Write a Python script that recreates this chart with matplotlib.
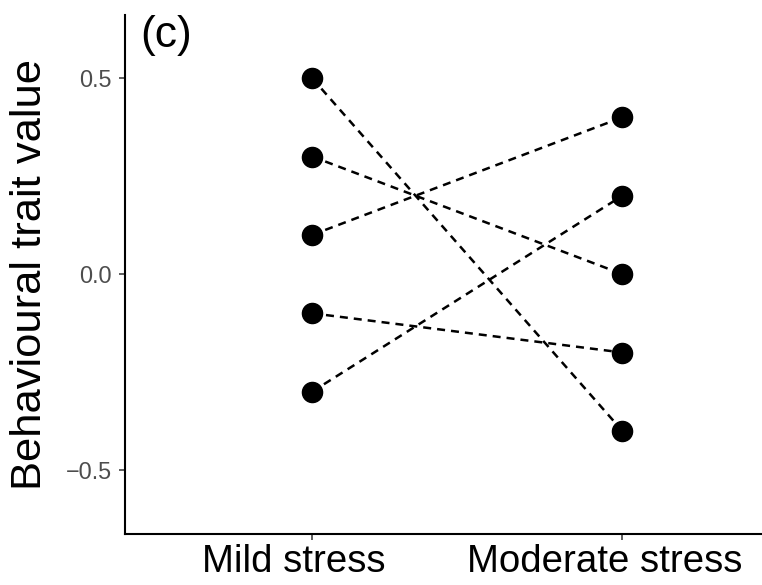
import matplotlib
matplotlib.use("Agg")
import matplotlib.pyplot as plt
from matplotlib.transforms import ScaledTranslation

plt.rcParams['font.family'] = ['Liberation Sans', 'DejaVu Sans']

categories = ["Mild stress", "Moderate stress"]
mild_values = [0.5, 0.3, 0.1, -0.1, -0.3]
moderate_values = [-0.4, 0.0, 0.4, -0.2, 0.2]
y_ticks = [-0.5, 0.0, 0.5]
y_ticklabels = ["\u22120.5", "0.0", "0.5"]

fig = plt.figure(figsize=(7.62, 5.85), dpi=100)
ax = fig.add_axes([125/762, 51/585, 1 - 125/762, (534-15)/585])

xpos = [1, 2]
for a, b in zip(mild_values, moderate_values):
    ax.plot(xpos, [a, b], linestyle=(0, (3.2, 2.4)), color='black', lw=1.8, zorder=2)
for a, b in zip(mild_values, moderate_values):
    ax.plot(xpos, [a, b], linestyle='none', marker='o', ms=14.5, color='black', zorder=3)

ax.set_xlim(0.397, 2.45)
ax.set_ylim(-0.663, 0.661)
ax.set_xticks(xpos)
ax.set_xticklabels(categories, fontsize=27.6, color='black')
ax.set_yticks(y_ticks)
ax.set_yticklabels(y_ticklabels, fontsize=16.8, color='#4d4d4d')
ax.tick_params(axis='both', length=4, width=1.1, color='#333333')
ax.tick_params(axis='y', pad=5.5)
ax.tick_params(axis='x', pad=3)
shift = ScaledTranslation(-18/100, 0, fig.dpi_scale_trans)
for lbl in ax.get_xticklabels():
    lbl.set_transform(lbl.get_transform() + shift)
for s in ['top', 'right']:
    ax.spines[s].set_visible(False)
for s in ['left', 'bottom']:
    ax.spines[s].set_linewidth(1.5)
    ax.spines[s].set_color('black')
ax.set_ylabel("Behavioural trait value", fontsize=31.3, labelpad=11)
ax.text(0.024, 1.0, "(c)", transform=ax.transAxes, fontsize=32, va='top', ha='left')

fig.savefig("out.png", dpi=100)
